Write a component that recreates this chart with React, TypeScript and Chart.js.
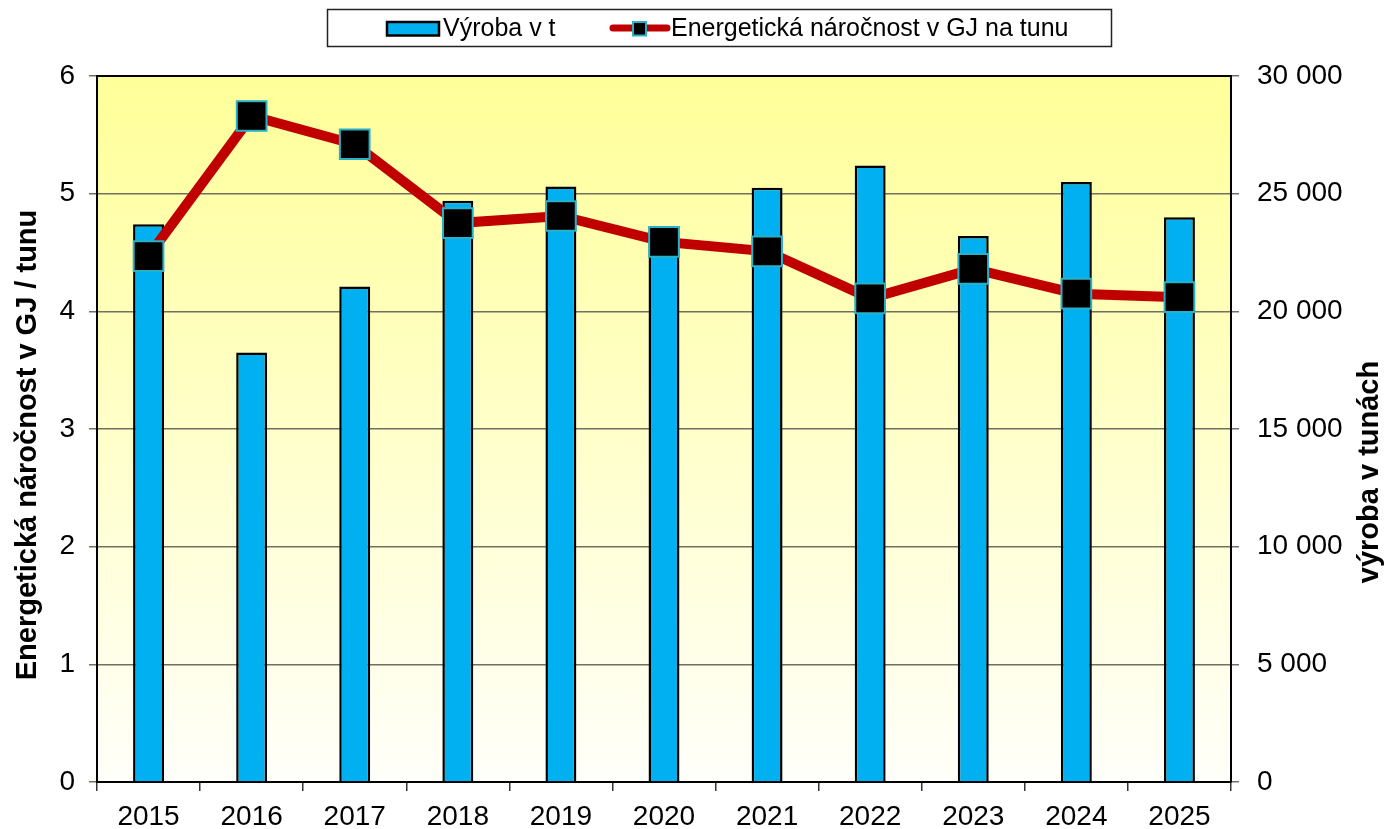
import React, { useEffect, useRef } from "react";
import { Chart, registerables } from "chart.js";

Chart.register(...registerables);

const years = ["2015", "2016", "2017", "2018", "2019", "2020", "2021", "2022", "2023", "2024", "2025"];
const production = [23700, 18250, 21050, 24700, 25300, 23600, 25250, 26200, 23200, 25500, 24000];
const intensity = [4.47, 5.66, 5.42, 4.75, 4.81, 4.59, 4.51, 4.11, 4.36, 4.15, 4.12];
const productionLabel = "Výroba v t";
const intensityLabel = "Energetická náročnost v GJ na tunu";
const leftTitle = "Energetická náročnost v GJ / tunu";
const rightTitle = "výroba v tunách";

const FONT = "'Liberation Sans', Arial, sans-serif";

const W = 1389;
const H = 829;
const AREA = { left: 97, right: 1231, top: 76, bottom: 782 };

const fmt = (v: number) => String(v).replace(/\B(?=(\d{3})+(?!\d))/g, " ");

const bgPlugin = {
  id: "bgPlugin",
  beforeDraw(chart: any) {
    const { ctx, chartArea: a } = chart;
    ctx.save();
    ctx.fillStyle = "#ffffff";
    ctx.fillRect(0, 0, chart.width, chart.height);
    const g = ctx.createLinearGradient(0, a.top, 0, a.bottom);
    g.addColorStop(0, "#FFFF99");
    g.addColorStop(1, "#FFFFFA");
    ctx.fillStyle = g;
    ctx.fillRect(a.left, a.top, a.right - a.left, a.bottom - a.top);
    ctx.restore();
  },
  afterDraw(chart: any) {
    const { ctx, chartArea: a } = chart;
    ctx.save();
    ctx.strokeStyle = "#000";
    ctx.lineWidth = 2;
    ctx.beginPath();
    ctx.moveTo(a.left - 1, a.top);
    ctx.lineTo(a.right + 1, a.top);
    ctx.stroke();

    ctx.fillStyle = "#000";
    ctx.font = `bold 29px ${FONT}`;
    ctx.textAlign = "center";
    ctx.textBaseline = "middle";
    ctx.save();
    ctx.translate(28, 445);
    ctx.rotate(-Math.PI / 2);
    ctx.fillText(leftTitle, 0, 0);
    ctx.restore();
    ctx.save();
    ctx.translate(1370, 472);
    ctx.rotate(-Math.PI / 2);
    ctx.fillText(rightTitle, 0, 0);
    ctx.restore();

    ctx.fillStyle = "#fff";
    ctx.fillRect(327.5, 9.5, 784, 37);
    ctx.strokeStyle = "#222";
    ctx.lineWidth = 1.5;
    ctx.strokeRect(327.5, 9.5, 784, 37);

    ctx.fillStyle = "#00B0F0";
    ctx.fillRect(387, 22, 52, 13.5);
    ctx.strokeStyle = "#000";
    ctx.lineWidth = 2.5;
    ctx.strokeRect(387, 22, 52, 13.5);

    ctx.font = `25px ${FONT}`;
    ctx.textAlign = "left";
    ctx.fillStyle = "#000";
    ctx.fillText(productionLabel, 443, 29);

    ctx.strokeStyle = "#C00000";
    ctx.lineWidth = 7;
    ctx.lineCap = "round";
    ctx.beginPath();
    ctx.moveTo(613, 28);
    ctx.lineTo(667, 28);
    ctx.stroke();
    ctx.lineCap = "butt";
    ctx.fillStyle = "#000";
    ctx.fillRect(633, 22, 13, 13.5);
    ctx.strokeStyle = "#2AB0C8";
    ctx.lineWidth = 2;
    ctx.strokeRect(633, 22, 13, 13.5);

    ctx.fillStyle = "#000";
    ctx.fillText(intensityLabel, 671, 29);
    ctx.restore();
  },
};

export default function App() {
  const ref = useRef<HTMLCanvasElement | null>(null);

  useEffect(() => {
    document.body.style.margin = "0";
    const canvas = ref.current;
    if (!canvas) return;
    const chart = new Chart(canvas, {
      type: "bar",
      data: {
        labels: years,
        datasets: [
          {
            type: "line",
            label: intensityLabel,
            data: intensity,
            yAxisID: "y",
            order: 0,
            borderColor: "#C00000",
            borderWidth: 10,
            pointStyle: "rect",
            pointRadius: 21,
            pointHoverRadius: 21,
            pointBackgroundColor: "#000",
            pointBorderColor: "#2AB0C8",
            pointBorderWidth: 2,
            tension: 0,
          } as any,
          {
            type: "bar",
            label: productionLabel,
            data: production,
            yAxisID: "y2",
            order: 1,
            backgroundColor: "#00B0F0",
            borderColor: "#000",
            borderWidth: 2.5,
            barPercentage: 0.3,
            categoryPercentage: 1,
          } as any,
        ],
      },
      options: {
        responsive: false,
        animation: false,
        layout: { padding: { top: AREA.top, left: 0, right: 0, bottom: 0 } },
        plugins: {
          legend: { display: false },
          tooltip: { enabled: false },
        },
        scales: {
          x: {
            offset: true,
            grid: {
              offset: true,
              drawOnChartArea: false,
              drawTicks: true,
              tickLength: 9,
              color: "#333",
              lineWidth: 1.5,
            },
            border: { display: true, color: "#000", width: 2 },
            ticks: {
              color: "#000",
              font: { family: FONT, size: 28 },
              padding: 9,
              maxRotation: 0,
            },
            afterFit(scale: any) {
              scale.height = H - AREA.bottom;
            },
          },
          y: {
            position: "left",
            min: 0,
            max: 6,
            grid: {
              color: "#707060",
              lineWidth: 1.5,
              tickLength: 8,
            },
            border: { display: true, color: "#000", width: 2 },
            ticks: {
              stepSize: 1,
              color: "#000",
              font: { family: FONT, size: 28 },
              padding: 14,
            },
            afterFit(scale: any) {
              scale.width = AREA.left;
            },
          },
          y2: {
            position: "right",
            min: 0,
            max: 30000,
            grid: {
              drawOnChartArea: false,
              color: "#707070",
              lineWidth: 1.5,
              tickLength: 8,
            },
            border: { display: true, color: "#000", width: 2 },
            ticks: {
              stepSize: 5000,
              color: "#000",
              font: { family: FONT, size: 28 },
              padding: 18,
              callback: (v: any) => fmt(Number(v)),
            },
            afterFit(scale: any) {
              scale.width = W - AREA.right;
            },
          },
        },
      },
      plugins: [bgPlugin],
    });
    return () => chart.destroy();
  }, []);

  return (
    <div style={{ width: W, height: H }}>
      <canvas ref={ref} width={W} height={H} style={{ display: "block" }} />
    </div>
  );
}
